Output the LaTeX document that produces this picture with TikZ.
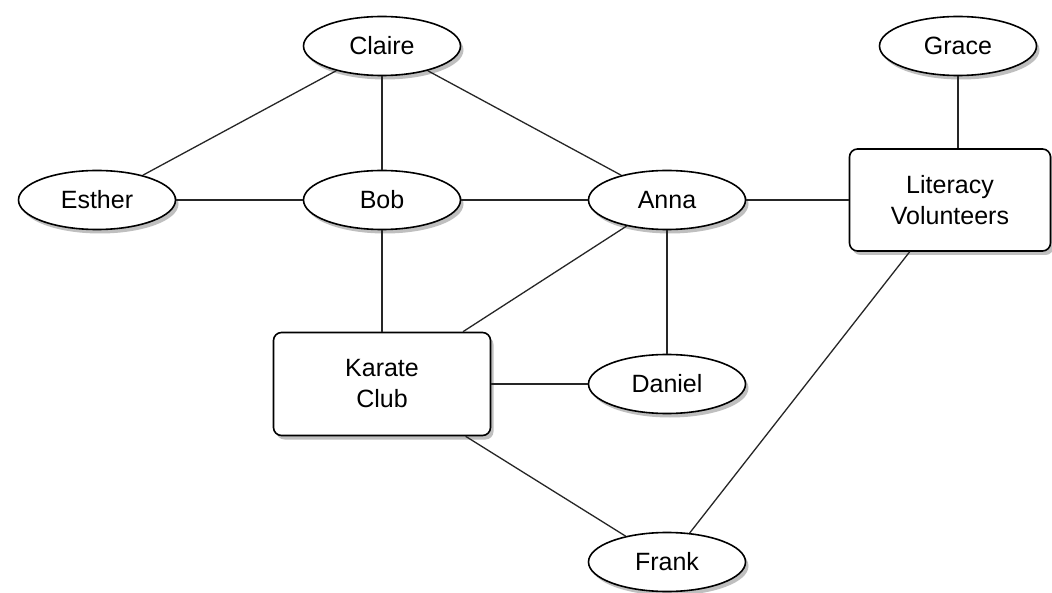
\documentclass[tikz,border=0pt]{standalone}
\usepackage{fontspec}
\setmainfont{Liberation Sans}
\usetikzlibrary{shapes.geometric,shadows}
\tikzset{
  every node/.style={font=\fontsize{25}{31}\selectfont, align=center},
  person/.style={ellipse, draw=black, line width=1.6pt, fill=white, minimum width=157pt, minimum height=59pt, inner sep=0pt,
    drop shadow={shadow xshift=3pt, shadow yshift=-4pt, opacity=0.45, fill=black!55}},
  group/.style={rectangle, rounded corners=8pt, draw=black, line width=1.6pt, fill=white, inner sep=0pt,
    drop shadow={shadow xshift=3pt, shadow yshift=-4pt, opacity=0.45, fill=black!55}},
  link/.style={draw=black!85, line width=1.3pt}
}
\begin{document}
\begin{tikzpicture}[x=1pt,y=-1pt]
\useasboundingbox (0,0) rectangle (1052,593);
\fill[white] (0,0) rectangle (1052,593);
\node[person] (claire) at (382,46) {Claire};
\node[person] (grace) at (958,46) {Grace};
\node[person] (esther) at (97,200) {Esther};
\node[person] (bob) at (382,200) {Bob};
\node[person] (anna) at (667,200) {Anna};
\node[person] (daniel) at (667,384) {Daniel};
\node[person] (frank) at (667,562) {Frank};
\node[group, minimum width=217pt, minimum height=103pt] (karate) at (382,384) {Karate\\Club};
\node[group, minimum width=201pt, minimum height=102pt] (literacy) at (950,200) {Literacy\\Volunteers};
\coordinate (littop) at (grace.center |- literacy.north);
\path[link] (claire) -- (esther);
\path[link] (claire) -- (bob);
\path[link] (claire) -- (anna);
\path[link] (esther) -- (bob);
\path[link] (bob) -- (anna);
\path[link] (anna) -- (literacy);
\path[link] (grace) -- (littop);
\path[link] (bob) -- (karate);
\path[link] (anna) -- (karate);
\path[link] (anna) -- (daniel);
\path[link] (karate) -- (daniel);
\path[link] (karate) -- (frank);
\path[link] (literacy) -- (frank);
\end{tikzpicture}
\end{document}
